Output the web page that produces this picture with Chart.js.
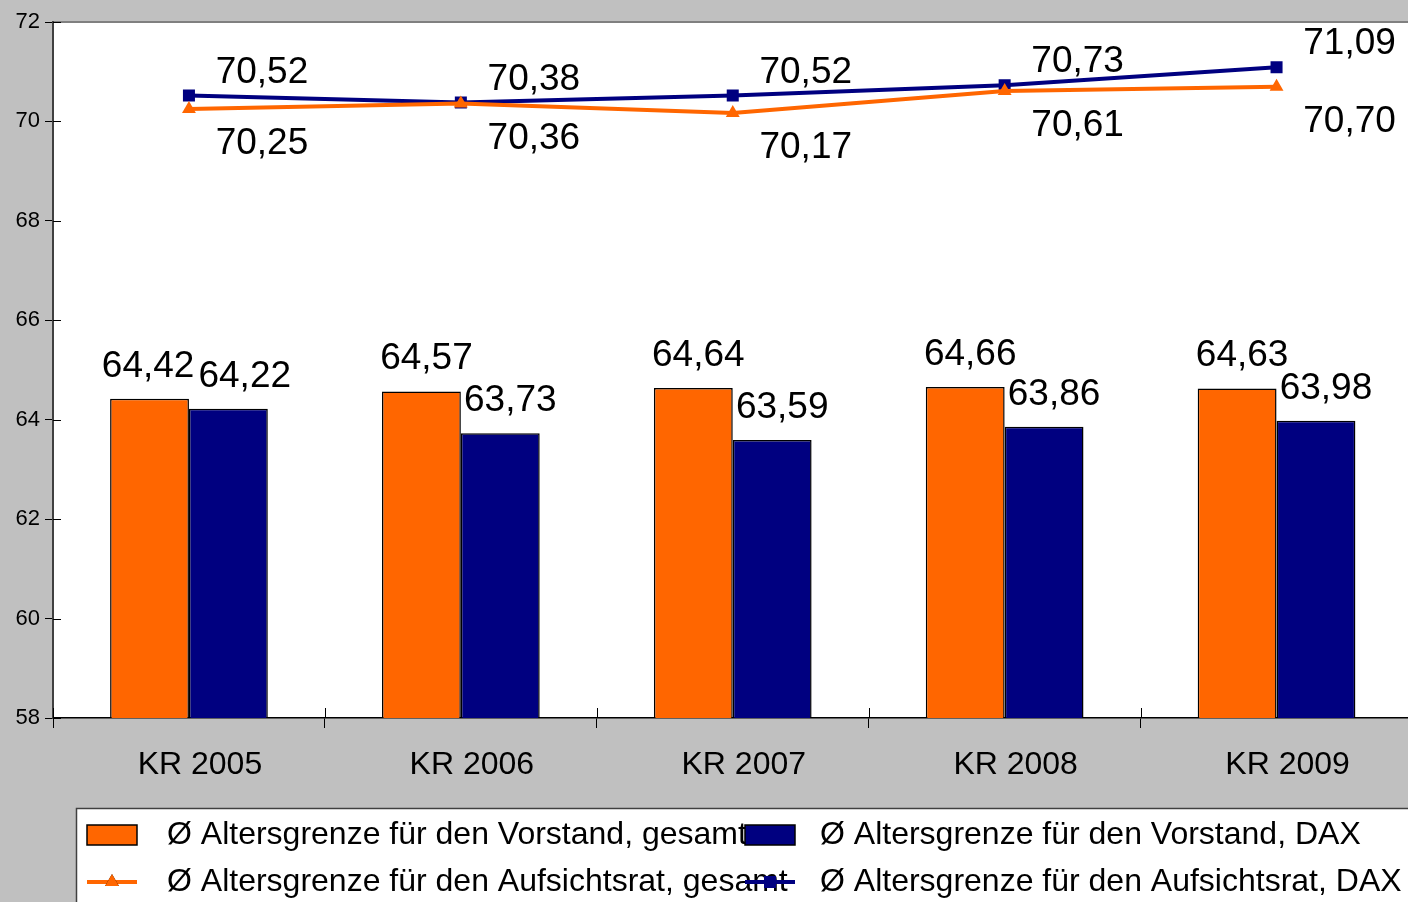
<!DOCTYPE html>
<html>
<head>
<meta charset="utf-8">
<script src="https://cdn.jsdelivr.net/npm/chart.js@4"></script>
<style>
  html, body { margin: 0; padding: 0; background: #c0c0c0; overflow: hidden; }
  #wrap { width: 1421px; height: 902px; }
</style>
</head>
<body>
<div id="wrap"><canvas id="altersChart"></canvas></div>
<script>
// Data
const categories = ['KR 2005', 'KR 2006', 'KR 2007', 'KR 2008', 'KR 2009'];
const vorstandGesamt = [64.42, 64.57, 64.64, 64.66, 64.63];
const vorstandDax = [64.22, 63.73, 63.59, 63.86, 63.98];
const aufsichtsratGesamt = [70.25, 70.36, 70.17, 70.61, 70.70];
const aufsichtsratDax = [70.52, 70.38, 70.52, 70.73, 71.09];
const yTicks = [58, 60, 62, 64, 66, 68, 70, 72];

const ORANGE = '#ff6600';
const NAVY = '#000080';
const FONT = '"Liberation Sans", Arial, sans-serif';

Chart.defaults.font.family = FONT;

const fmt = v => v.toFixed(2).replace('.', ',');

// gray page + white plot area
const backgroundPlugin = {
    id: 'background',
    beforeDraw(chart) {
        const { ctx, chartArea: a } = chart;
        ctx.save();
        ctx.fillStyle = '#c0c0c0';
        ctx.fillRect(0, 0, chart.width, chart.height);
        ctx.fillStyle = '#ffffff';
        ctx.fillRect(a.left, a.top, a.right - a.left, a.bottom - a.top);
        ctx.strokeStyle = '#808080';
        ctx.lineWidth = 2;
        ctx.beginPath();
        ctx.moveTo(a.left, a.top);
        ctx.lineTo(a.right, a.top);
        ctx.stroke();
        ctx.restore();
    }
};

// inner halves of the tick marks
const innerTicksPlugin = {
    id: 'innerTicks',
    afterDraw(chart) {
        const { ctx, chartArea: a, scales } = chart;
        ctx.save();
        ctx.strokeStyle = '#000';
        ctx.lineWidth = 1;
        ctx.beginPath();
        yTicks.forEach(t => {
            const y = Math.round(scales.y.getPixelForValue(t)) + 0.5;
            ctx.moveTo(a.left, y);
            ctx.lineTo(a.left + 8, y);
        });
        const step = scales.x.getPixelForTick(1) - scales.x.getPixelForTick(0);
        for (let i = 0; i <= categories.length; i++) {
            const x = Math.round(scales.x.getPixelForTick(0) + (i - 0.5) * step) + 0.5;
            ctx.moveTo(x, a.bottom);
            ctx.lineTo(x, a.bottom - 10);
        }
        ctx.stroke();
        ctx.restore();
    }
};

// value labels
const valueLabelPlugin = {
    id: 'valueLabels',
    afterDatasetsDraw(chart) {
        const { ctx } = chart;
        ctx.save();
        ctx.font = '37px ' + FONT;
        ctx.fillStyle = '#000';
        ctx.textAlign = 'center';
        ctx.textBaseline = 'alphabetic';

        const barA = chart.getDatasetMeta(0);
        const barB = chart.getDatasetMeta(1);
        categories.forEach((c, i) => {
            const ea = barA.data[i], eb = barB.data[i];
            const ta = fmt(vorstandGesamt[i]), tb = fmt(vorstandDax[i]);
            let xa = ea.x + 5, xb = eb.x + 10;
            const wa = ctx.measureText(ta).width, wb = ctx.measureText(tb).width;
            const overlap = (xa + wa / 2 + 4) - (xb - wb / 2);
            if (overlap > 0 && Math.abs(ea.y - eb.y) < 30) {
                xa -= overlap / 2;
                xb += overlap / 2;
            }
            ctx.fillText(ta, xa, ea.y - 22);
            ctx.fillText(tb, xb, eb.y - 22);
        });

        const lineA = chart.getDatasetMeta(2);
        const lineB = chart.getDatasetMeta(3);
        categories.forEach((c, i) => {
            const pa = lineA.data[i], pb = lineB.data[i];
            ctx.fillText(fmt(aufsichtsratGesamt[i]), pa.x + 73, pa.y + 45);
            ctx.fillText(fmt(aufsichtsratDax[i]), pb.x + 73, pb.y - 13);
        });
        ctx.restore();
    }
};

// legend box at the bottom
const legendPlugin = {
    id: 'bottomLegend',
    afterDraw(chart) {
        const { ctx } = chart;
        ctx.save();
        ctx.fillStyle = '#ffffff';
        ctx.fillRect(76, 808, chart.width, 120);
        ctx.strokeStyle = '#404040';
        ctx.lineWidth = 1.5;
        ctx.strokeRect(76.5, 808.5, chart.width, 120);

        const cols = [87, 745];
        const textX = [167, 820];
        const rows = [835, 882];
        const ds = chart.data.datasets;
        const items = [
            { d: ds[0], col: 0, row: 0, kind: 'box' },
            { d: ds[1], col: 1, row: 0, kind: 'box' },
            { d: ds[2], col: 0, row: 1, kind: 'line' },
            { d: ds[3], col: 1, row: 1, kind: 'line' }
        ];
        ctx.font = '32px ' + FONT;
        ctx.textBaseline = 'middle';
        ctx.textAlign = 'left';
        items.forEach(it => {
            const x = cols[it.col], y = rows[it.row];
            if (it.kind === 'box') {
                ctx.fillStyle = it.d.backgroundColor;
                ctx.fillRect(x, y - 10, 50, 20);
                ctx.strokeStyle = '#000';
                ctx.lineWidth = 1.5;
                ctx.strokeRect(x, y - 10, 50, 20);
            } else {
                ctx.strokeStyle = it.d.borderColor;
                ctx.lineWidth = 4;
                ctx.beginPath();
                ctx.moveTo(x, y);
                ctx.lineTo(x + 50, y);
                ctx.stroke();
                Chart.helpers.drawPoint(ctx, {
                    pointStyle: it.d.pointStyle,
                    radius: it.d.pointRadius,
                    borderWidth: 0
                }, x + 25, y);
                ctx.fillStyle = it.d.borderColor;
                ctx.fill();
            }
            ctx.fillStyle = '#000';
            ctx.fillText(it.d.label, textX[it.col], y);
        });
        ctx.restore();
    }
};

const ctx = document.getElementById('altersChart').getContext('2d');
new Chart(ctx, {
    type: 'bar',
    data: {
        labels: categories,
        datasets: [
            {
                label: 'Ø Altersgrenze für den Vorstand, gesamt',
                data: vorstandGesamt,
                backgroundColor: ORANGE,
                borderColor: '#000',
                borderWidth: 1.5,
                order: 2
            },
            {
                label: 'Ø Altersgrenze für den Vorstand, DAX',
                data: vorstandDax,
                backgroundColor: NAVY,
                borderColor: '#000',
                borderWidth: 1.5,
                order: 2
            },
            {
                type: 'line',
                label: 'Ø Altersgrenze für den Aufsichtsrat, gesamt',
                data: aufsichtsratGesamt,
                borderColor: ORANGE,
                backgroundColor: ORANGE,
                borderWidth: 4,
                pointStyle: 'triangle',
                pointRadius: 8,
                pointBorderWidth: 0,
                tension: 0,
                order: 1
            },
            {
                type: 'line',
                label: 'Ø Altersgrenze für den Aufsichtsrat, DAX',
                data: aufsichtsratDax,
                borderColor: NAVY,
                backgroundColor: NAVY,
                borderWidth: 4,
                pointStyle: 'rect',
                pointRadius: 8.5,
                pointBorderWidth: 0,
                tension: 0,
                order: 1
            }
        ]
    },
    options: {
        responsive: true,
        maintainAspectRatio: false,
        animation: false,
        layout: { padding: { top: 22, right: 0, left: 0, bottom: 0 } },
        plugins: {
            legend: { display: false },
            tooltip: { enabled: false }
        },
        datasets: {
            bar: { categoryPercentage: 0.58, barPercentage: 1.0 }
        },
        scales: {
            x: {
                afterFit: s => { s.height = 184; },
                grid: { drawOnChartArea: false, color: '#000', tickLength: 10, offset: true },
                border: { color: '#000', width: 1.5 },
                ticks: { color: '#000', font: { size: 32 }, padding: 18, labelOffset: 11 }
            },
            y: {
                min: yTicks[0],
                max: yTicks[yTicks.length - 1],
                afterFit: s => { s.width = 53; },
                afterBuildTicks: s => { s.ticks = yTicks.map(v => ({ value: v })); },
                grid: { drawOnChartArea: false, color: '#000', tickLength: 8 },
                border: { color: '#404040', width: 2 },
                ticks: { color: '#000', font: { size: 22 }, padding: 5 }
            }
        }
    },
    plugins: [backgroundPlugin, innerTicksPlugin, valueLabelPlugin, legendPlugin]
});
</script>
</body>
</html>
